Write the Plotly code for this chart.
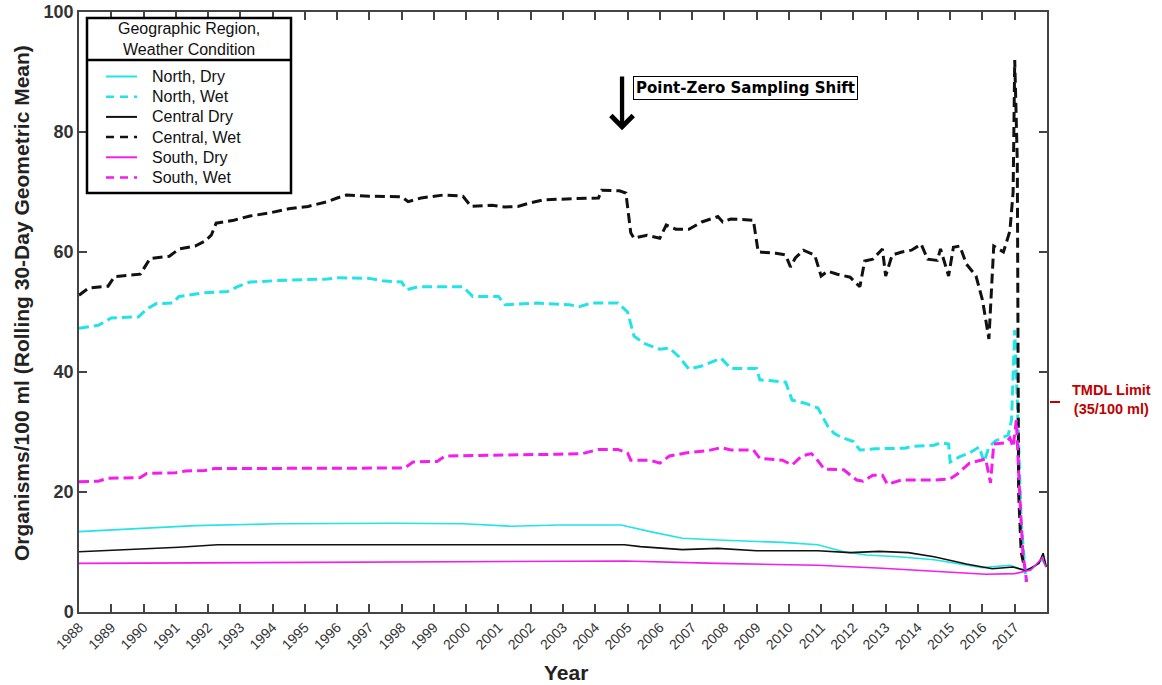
import plotly.graph_objects as go

# ---------------- data ----------------
yr_cw = [1988.0, 1988.3, 1988.9, 1989.1, 1989.9, 1990.2, 1990.8, 1991.1, 1991.6, 1991.9,
         1992.1, 1992.25, 1992.8, 1993.3, 1993.9, 1994.5, 1995.1, 1995.7, 1996.0, 1996.3,
         1997.0, 1997.6, 1998.0, 1998.2, 1998.6, 1999.3, 1999.9, 2000.15, 2000.8, 2001.2,
         2001.6, 2002.0, 2002.4, 2003.4, 2004.1, 2004.2, 2004.75, 2004.95, 2005.1, 2005.2,
         2005.6, 2006.0, 2006.2, 2006.5, 2006.9, 2007.3, 2007.8, 2007.95, 2008.2, 2008.9,
         2009.05, 2009.6, 2009.9, 2010.05, 2010.2, 2010.45, 2010.8, 2011.0, 2011.2, 2011.5,
         2011.9, 2012.2, 2012.35, 2012.6, 2012.9, 2013.0, 2013.2, 2013.5, 2013.8, 2014.1,
         2014.3, 2014.6, 2014.7, 2014.95, 2015.1, 2015.3, 2015.5, 2015.8, 2016.0, 2016.2,
         2016.35, 2016.65, 2016.85, 2016.95, 2017.0, 2017.08, 2017.12, 2017.2, 2017.3]
central_wet = [52.8, 54.0, 54.3, 55.9, 56.3, 58.9, 59.3, 60.5, 61.0, 61.8,
               62.8, 64.8, 65.3, 66.0, 66.5, 67.2, 67.6, 68.4, 69.0, 69.5,
               69.3, 69.2, 69.2, 68.4, 69.0, 69.5, 69.3, 67.6, 67.8, 67.5,
               67.6, 68.2, 68.7, 68.9, 69.0, 70.3, 70.2, 69.8, 63.2, 62.3,
               62.8, 62.3, 64.5, 63.8, 63.8, 65.0, 65.9, 65.0, 65.5, 65.3,
               60.0, 59.8, 59.5, 57.5, 59.0, 60.3, 59.5, 56.0, 56.8, 56.3,
               55.8, 54.2, 58.5, 58.8, 60.5, 56.0, 59.5, 60.0, 60.3, 61.3,
               58.8, 58.6, 60.5, 56.0, 60.8, 61.0, 58.0, 56.0, 52.0, 45.5,
               61.0, 60.0, 63.5, 70.0, 92.0, 75.0, 20.0, 10.0, 7.5]

yr_nw = [1988.0, 1988.6, 1989.0, 1989.85, 1990.1, 1990.4, 1990.9, 1991.1, 1991.9, 1992.6,
         1992.9, 1993.3, 1994.4, 1995.7, 1996.0, 1997.0, 1997.4, 1998.0, 1998.15, 1998.5,
         1999.9, 2000.2, 2001.0, 2001.2, 2002.2, 2003.2, 2003.5, 2003.9, 2004.7, 2005.0,
         2005.2, 2005.5, 2006.0, 2006.3, 2006.6, 2006.9, 2007.3, 2007.7, 2007.9, 2008.2,
         2009.0, 2009.1, 2009.9, 2010.1, 2010.5, 2010.9, 2011.2, 2011.4, 2011.6, 2012.0,
         2012.2, 2012.7, 2013.6, 2013.8, 2014.5, 2014.7, 2014.95, 2015.0, 2015.3, 2015.6,
         2015.9, 2016.05, 2016.2, 2016.4, 2016.8, 2016.9, 2016.95, 2017.0, 2017.08, 2017.2,
         2017.35]
north_wet = [47.3, 47.8, 49.0, 49.2, 50.5, 51.4, 51.5, 52.6, 53.2, 53.4,
             54.2, 55.0, 55.3, 55.5, 55.7, 55.6, 55.2, 55.0, 53.7, 54.2,
             54.2, 52.6, 52.6, 51.2, 51.5, 51.2, 50.9, 51.5, 51.5, 50.0,
             46.0, 44.8, 43.8, 44.0, 42.5, 40.5, 41.0, 41.8, 42.3, 40.6,
             40.6, 38.7, 38.3, 35.3, 34.8, 34.0, 31.0, 29.8, 29.2, 28.4,
             27.0, 27.2, 27.3, 27.6, 27.8, 28.2, 28.0, 25.0, 25.9, 26.5,
             27.5, 25.0, 27.5, 28.5, 29.5, 32.0, 40.0, 47.0, 35.0, 15.0,
             5.0]

yr_sw = [1988.0, 1988.6, 1988.9, 1989.9, 1990.1, 1991.0, 1991.3, 1991.9, 1992.2, 1995.0,
         1997.9, 1998.1, 1998.35, 1999.1, 1999.35, 2001.0, 2002.9, 2003.6, 2004.1, 2004.7,
         2005.0, 2005.1, 2005.7, 2006.0, 2006.3, 2006.8, 2007.5, 2007.9, 2008.2, 2008.9,
         2009.1, 2009.8, 2010.1, 2010.4, 2010.7, 2010.9, 2011.1, 2011.7, 2012.1, 2012.3,
         2012.6, 2012.9, 2013.05, 2013.5, 2014.5, 2015.0, 2015.2, 2015.6, 2015.9, 2016.1,
         2016.25, 2016.35, 2016.7, 2016.85, 2016.95, 2017.05, 2017.15, 2017.25, 2017.37]
south_wet = [21.7, 21.8, 22.3, 22.4, 23.1, 23.2, 23.5, 23.6, 23.9, 24.0,
             24.1, 24.0, 25.0, 25.1, 26.0, 26.1, 26.3, 26.4, 27.1, 27.1,
             26.5, 25.3, 25.3, 24.8, 26.0, 26.5, 26.9, 27.4, 27.0, 27.0,
             25.6, 25.3, 24.5, 26.0, 26.4, 25.2, 23.8, 23.7, 22.0, 21.8,
             22.8, 22.8, 21.3, 22.0, 22.0, 22.2, 22.9, 24.8, 25.2, 25.5,
             21.5, 28.0, 28.2, 29.0, 27.5, 32.0, 20.0, 10.0, 5.0]

yr_nd = [1988.0, 1990.0, 1991.6, 1994.2, 1997.8, 1999.9, 2001.4, 2002.9, 2004.8, 2005.7,
         2006.7, 2007.8, 2008.8, 2009.8, 2010.9, 2011.7, 2012.4, 2013.4, 2014.5, 2015.5,
         2016.0, 2016.85, 2017.25, 2017.55, 2017.85, 2017.97]
north_dry = [13.4, 13.9, 14.4, 14.7, 14.8, 14.7, 14.3, 14.5, 14.5, 13.4,
             12.3, 12.0, 11.8, 11.6, 11.2, 10.05, 9.5, 9.2, 8.7, 7.8,
             7.4, 7.8, 7.0, 7.3, 8.7, 7.5]

yr_cd = [1988.0, 1989.2, 1991.1, 1992.3, 1995.2, 1997.8, 2002.9, 2004.9, 2005.4, 2006.7,
         2007.8, 2009.0, 2010.9, 2011.9, 2012.8, 2013.7, 2014.5, 2015.5, 2016.3, 2016.95,
         2017.35, 2017.75, 2017.88, 2017.98]
central_dry = [10.05, 10.3, 10.8, 11.2, 11.2, 11.3, 11.2, 11.2, 10.9, 10.4,
               10.6, 10.2, 10.2, 9.9, 10.1, 9.9, 9.2, 8.0, 7.2, 7.5,
               6.9, 8.1, 9.8, 7.5]

yr_sd = [1988.0, 1995.2, 2002.9, 2004.9, 2007.8, 2010.9, 2012.9, 2015.0, 2016.1, 2017.0,
         2017.5, 2017.85, 2017.97]
south_dry = [8.1, 8.25, 8.5, 8.5, 8.1, 7.8, 7.3, 6.7, 6.3, 6.4,
             7.0, 9.0, 7.5]

year_ticks = list(range(1988, 2018))
y_ticks = [0, 20, 40, 60, 80, 100]

shift_year = 2004.83
tmdl_limit = 35

CYAN = "#22E3E6"
MAGENTA = "#F41CEE"
BLACK = "#111111"
DASH = "10px,5px"

series = [
    ("North, Dry", yr_nd, north_dry, CYAN, "solid", 1.6),
    ("North, Wet", yr_nw, north_wet, CYAN, DASH, 3),
    ("Central Dry", yr_cd, central_dry, BLACK, "solid", 1.6),
    ("Central, Wet", yr_cw, central_wet, BLACK, DASH, 3),
    ("South, Dry", yr_sd, south_dry, MAGENTA, "solid", 1.6),
    ("South, Wet", yr_sw, south_wet, MAGENTA, DASH, 3),
]

FONT = "Liberation Sans, Arial, sans-serif"
AX = "#444444"

W, H = 1162, 685
ML, MR, MT, MB = 79, 115, 12, 73
PW, PH = W - ML - MR, H - MT - MB


def px_x(p):  # pixel column -> paper x
    return (p - ML) / PW


def px_y(p):  # pixel row -> paper y
    return (H - MB - p) / PH


fig = go.Figure()
for name, xs, ys, col, dash, w in series:
    fig.add_trace(go.Scatter(x=xs, y=ys, mode="lines", name=name, showlegend=False,
                             line=dict(color=col, dash=dash, width=w)))

fig.update_layout(
    width=W, height=H,
    margin=dict(l=ML, r=MR, t=MT, b=MB, autoexpand=False),
    paper_bgcolor="white", plot_bgcolor="white",
    font=dict(family=FONT, color="#222"),
    showlegend=False,
    xaxis=dict(range=[1988, 2018], tickvals=year_ticks, ticktext=[str(v) for v in year_ticks],
               tickangle=-45, ticks="inside", ticklen=8, tickwidth=1.5, tickcolor=AX,
               showline=True, linecolor=AX, linewidth=1.5, mirror="ticks",
               showgrid=False, zeroline=False, automargin=False,
               tickfont=dict(family=FONT, size=14, color="#333")),
    yaxis=dict(range=[0, 100], tickvals=y_ticks, ticktext=[f"<b>{v}</b>" for v in y_ticks],
               ticks="inside", ticklen=8, tickwidth=1.5, tickcolor=AX,
               showline=True, linecolor=AX, linewidth=1.5, mirror="ticks",
               showgrid=False, zeroline=False, automargin=False,
               tickfont=dict(family=FONT, size=18, color="#333")),
)

# ---- legend box drawn by hand (frame, separator, title, samples, labels) ----
LX0, LX1, LY0, LY1, LSEP = 87, 291, 18, 193, 60
fig.add_shape(type="rect", xref="paper", yref="paper", x0=px_x(LX0), x1=px_x(LX1),
              y0=px_y(LY1), y1=px_y(LY0),
              line=dict(color="black", width=2.5), fillcolor="white", layer="above")
fig.add_shape(type="line", xref="paper", yref="paper", x0=px_x(LX0), x1=px_x(LX1),
              y0=px_y(LSEP), y1=px_y(LSEP),
              line=dict(color="black", width=2.5), layer="above")
fig.add_annotation(xref="paper", yref="paper", x=px_x((LX0 + LX1) / 2), y=px_y(39.5),
                   showarrow=False, text="Geographic Region,<br>Weather Condition",
                   align="center", font=dict(family=FONT, size=16, color="#111"),
                   xanchor="center", yanchor="middle")
for i, (name, xs, ys, col, dash, w) in enumerate(series):
    yc = 76.5 + i * 20.2
    fig.add_shape(type="line", xref="paper", yref="paper", x0=px_x(106), x1=px_x(137),
                  y0=px_y(yc), y1=px_y(yc), layer="above",
                  line=dict(color=col, width=2.5 if dash != "solid" else 2,
                            dash="8px,6px" if dash != "solid" else "solid"))
    fig.add_annotation(xref="paper", yref="paper", x=px_x(150), y=px_y(yc), showarrow=False,
                       text=name, font=dict(family=FONT, size=16, color="#111"),
                       xanchor="left", yanchor="middle")

# axis titles
fig.add_annotation(xref="paper", yref="paper", x=px_x(566), y=px_y(672), showarrow=False,
                   text="<b>Year</b>", font=dict(family=FONT, size=21, color="#222"),
                   xanchor="center", yanchor="middle")
fig.add_annotation(xref="paper", yref="paper", x=px_x(21), y=px_y(303), showarrow=False,
                   textangle=-90,
                   text="<b>Organisms/100 ml (Rolling 30-Day Geometric Mean)</b>",
                   font=dict(family=FONT, size=21, color="#222"),
                   xanchor="center", yanchor="middle")

# sampling-shift arrow and label
fig.add_annotation(x=shift_year, y=80.3, ax=shift_year, ay=89.5, xref="x", yref="y",
                   axref="x", ayref="y", showarrow=True, arrowhead=4, arrowsize=1,
                   arrowwidth=4.3, arrowcolor="black", text="", standoff=0)
fig.add_annotation(x=px_x(745.5), y=87.4, xref="paper", yref="y", showarrow=False,
                   xanchor="center", yanchor="middle",
                   text="<b>Point-Zero Sampling Shift</b>",
                   font=dict(family="DejaVu Sans, sans-serif", size=15, color="black"),
                   bordercolor="black", borderwidth=1, borderpad=2, bgcolor="white")

# TMDL limit marker
fig.add_shape(type="line", xref="paper", yref="y", x0=px_x(1050), x1=px_x(1060),
              y0=tmdl_limit, y1=tmdl_limit, line=dict(color="#C00000", width=2))
fig.add_annotation(xref="paper", yref="y", x=px_x(1111), y=tmdl_limit + 0.5, showarrow=False,
                   text="<b>TMDL Limit<br>(35/100 ml)</b>", align="center",
                   font=dict(family=FONT, size=14.5, color="#C00000"),
                   xanchor="center", yanchor="middle")

fig.write_html("out.html", config={"displayModeBar": False},
               post_script="document.body.style.margin='0';")
